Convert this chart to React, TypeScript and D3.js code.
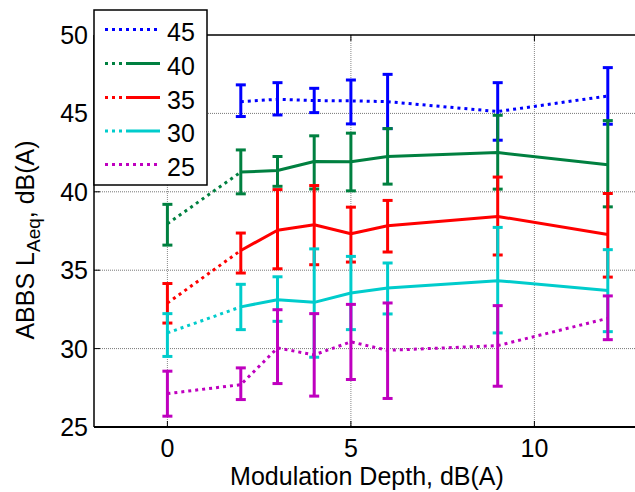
import React from "react";
import * as d3 from "d3";

const xValues = [0, 2, 3, 4, 5, 6, 9, 12];
const seriesNames = ["45", "40", "35", "30", "25"];
const seriesColors = ["#0000ff", "#008040", "#ff0000", "#00cccc", "#bf00bf"];

const mean45 = [null, 45.75, 45.9, 45.82, 45.8, 45.75, 45.12, 46.11];
const upper45 = [null, 46.82, 46.96, 46.6, 47.13, 47.49, 46.96, 47.92];
const lower45 = [null, 44.8, 44.9, 45.05, 44.33, 44.03, 43.29, 44.31];

const mean40 = [37.96, 41.26, 41.36, 41.93, 41.91, 42.25, 42.5, 41.72];
const upper40 = [39.2, 42.67, 42.25, 43.57, 43.74, 44.03, 44.88, 44.54];
const lower40 = [36.6, 39.87, 40.35, 40.18, 40.06, 40.49, 40.17, 39.04];

const mean35 = [32.9, 36.26, 37.55, 37.9, 37.32, 37.83, 38.43, 37.28];
const upper35 = [34.15, 37.37, 40.14, 40.4, 39.02, 39.45, 40.94, 39.89];
const lower35 = [31.63, 34.82, 35.09, 35.35, 35.52, 36.16, 35.97, 34.56];

const mean30 = [31.0, 32.66, 33.12, 32.95, 33.55, 33.86, 34.33, 33.71];
const upper30 = [32.23, 34.1, 34.58, 36.36, 35.88, 35.46, 37.73, 36.31];
const lower30 = [29.5, 31.21, 31.74, 29.45, 31.21, 32.21, 31.0, 31.08];

const mean25 = [27.13, 27.7, 30.04, 29.6, 30.43, 29.89, 30.19, 31.93];
const upper25 = [28.56, 28.77, 32.48, 32.23, 32.82, 32.91, 32.74, 33.36];
const lower25 = [25.69, 26.75, 27.77, 26.97, 28.03, 26.82, 27.6, 30.57];

const solidFromX2 = [false, true, true, true, false];

const xTicks = [0, 5, 10];
const yTicks = [25, 30, 35, 40, 45, 50];
const xLabel = "Modulation Depth, dB(A)";

const FONT = "'Liberation Sans', Arial, Helvetica, sans-serif";

export default function App() {
  const x = d3.scaleLinear().domain([-2, 13]).range([94, 644.5]);
  const y = d3.scaleLinear().domain([25, 50]).range([427, 35]);

  const series = [
    { mean: mean45, upper: upper45, lower: lower45 },
    { mean: mean40, upper: upper40, lower: lower40 },
    { mean: mean35, upper: upper35, lower: lower35 },
    { mean: mean30, upper: upper30, lower: lower30 },
    { mean: mean25, upper: upper25, lower: lower25 },
  ].map((s, i) => ({ ...s, name: seriesNames[i], color: seriesColors[i], solid: solidFromX2[i] }));

  const line = d3
    .line<[number, number]>()
    .x((d) => x(d[0]))
    .y((d) => y(d[1]));

  const [x0, x1] = x.range();
  const [yb, yt] = y.range();
  const capW = 5;

  const legendRowY = [29.5, 63.5, 97.5, 131, 164.5];

  return (
    <svg
      width={635}
      height={492}
      style={{ position: "absolute", left: 0, top: 0, display: "block", background: "#fff" }}
      fontFamily={FONT}
    >
      <rect x={0} y={0} width={635} height={492} fill="#fff" />
      {/* grid */}
      {xTicks.map((t) => (
        <line key={"gx" + t} x1={x(t)} x2={x(t)} y1={yt} y2={yb} stroke="#888" strokeWidth={1} strokeDasharray="1,1" />
      ))}
      {yTicks
        .filter((t) => t !== 25 && t !== 50)
        .map((t) => (
          <line key={"gy" + t} x1={x0} x2={x1} y1={y(t)} y2={y(t)} stroke="#777" strokeWidth={1} strokeDasharray="1,1" />
        ))}

      {/* series */}
      {series.map((s, si) => {
        const pts: [number, number][] = [];
        xValues.forEach((xv, i) => {
          if (s.mean[i] != null) pts.push([xv, s.mean[i] as number]);
        });
        const dotPts = s.solid ? pts.filter((p) => p[0] <= 2) : pts;
        const solidPts = s.solid ? pts.filter((p) => p[0] >= 2) : [];
        return (
          <g key={"s" + si}>
            <path d={line(dotPts) || ""} fill="none" stroke={s.color} strokeWidth={3} strokeDasharray="3,4" />
            {solidPts.length > 0 && (
              <path d={line(solidPts) || ""} fill="none" stroke={s.color} strokeWidth={3} strokeLinejoin="round" />
            )}
            {xValues.map((xv, i) => {
              if (s.mean[i] == null) return null;
              const cx = x(xv);
              const yu = y(s.upper[i] as number);
              const yl = y(s.lower[i] as number);
              return (
                <g key={"e" + i} stroke={s.color} strokeWidth={3}>
                  <line x1={cx} x2={cx} y1={yu} y2={yl} />
                  <line x1={cx - capW} x2={cx + capW} y1={yu} y2={yu} />
                  <line x1={cx - capW} x2={cx + capW} y1={yl} y2={yl} />
                </g>
              );
            })}
          </g>
        );
      })}

      {/* axes */}
      <line x1={x0} x2={x1} y1={yt} y2={yt} stroke="#000" strokeWidth={1.5} />
      <line x1={x0} x2={x1} y1={yb} y2={yb} stroke="#000" strokeWidth={2} />
      <line x1={x0} x2={x0} y1={yt} y2={yb} stroke="#000" strokeWidth={1.5} />
      {yTicks.map((t) => (
        <g key={"yt" + t}>
          <line x1={x0} x2={x0 + 6} y1={y(t)} y2={y(t)} stroke="#000" strokeWidth={1} />
          <text x={88} y={y(t)} textAnchor="end" dominantBaseline="central" fontSize={25} fill="#000">
            {t}
          </text>
        </g>
      ))}
      {xTicks.map((t) => (
        <g key={"xt" + t}>
          <line x1={x(t)} x2={x(t)} y1={yb} y2={yb - 6} stroke="#000" strokeWidth={1} />
          <line x1={x(t)} x2={x(t)} y1={yt} y2={yt + 6} stroke="#000" strokeWidth={1} />
          <text x={x(t)} y={457} textAnchor="middle" fontSize={25} fill="#000">
            {t}
          </text>
        </g>
      ))}
      <text x={367} y={485} textAnchor="middle" fontSize={25} fill="#000">
        {xLabel}
      </text>
      <text transform="translate(34,240) rotate(-90)" textAnchor="middle" fontSize={25} fill="#000">
        ABBS L
        <tspan fontSize={19} dy={6}>
          Aeq
        </tspan>
        <tspan dy={-6}>, dB(A)</tspan>
      </text>

      {/* legend */}
      <rect x={94} y={10} width={113} height={175} fill="#fff" stroke="#000" strokeWidth={1.5} />
      {series.map((s, si) => {
        const ly = legendRowY[si];
        return (
          <g key={"lg" + si}>
            {s.solid ? (
              <>
                <line x1={105} x2={127} y1={ly} y2={ly} stroke={s.color} strokeWidth={3} strokeDasharray="3,4" />
                <line x1={127} x2={160} y1={ly} y2={ly} stroke={s.color} strokeWidth={3} />
              </>
            ) : (
              <line x1={105} x2={160} y1={ly} y2={ly} stroke={s.color} strokeWidth={3} strokeDasharray="3,4" />
            )}
            <text x={167} y={ly + 2} dominantBaseline="central" fontSize={25} fill="#000">
              {s.name}
            </text>
          </g>
        );
      })}
    </svg>
  );
}
